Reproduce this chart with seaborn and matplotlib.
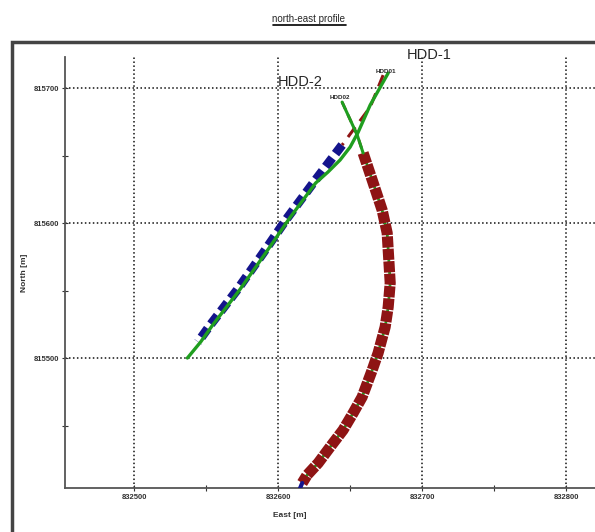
import numpy as np
import pandas as pd
import matplotlib
matplotlib.use("Agg")
import matplotlib.pyplot as plt
from matplotlib.patches import Rectangle
from matplotlib.lines import Line2D
import seaborn as sns

# HDD-1 actual path (green), entry HDD01 -> exit
hdd1_act_e = [832676.4, 832663.9, 832655.6, 832650.0, 832643.0, 832634.6, 832626.0,
              832608.0, 832591.3, 832573.2, 832554.5, 832546.2, 832537.0]
hdd1_act_n = [815711.1, 815687.4, 815667.4, 815656.3, 815646.7, 815637.8, 815629.6,
              815603.7, 815577.8, 815550.4, 815524.4, 815511.9, 815500.0]

# HDD-1 planned path: upper part (red dashed), lower part (blue)
hdd1_plan_up_e = [832672.9, 832663.9, 832652.1, 832644.4]
hdd1_plan_up_n = [815709.6, 815685.9, 815668.9, 815657.8]
hdd1_plan_lo_e = [832644.4, 832624.3, 832606.3, 832589.6, 832571.5, 832552.8, 832544.4]
hdd1_plan_lo_n = [815657.8, 815629.6, 815603.7, 815577.8, 815550.4, 815524.4, 815511.9]

# HDD-2 path, entry HDD02 -> curving down to the south
hdd2_e = [832644.4, 832654.9, 832659.0, 832666.0, 832672.2, 832675.7, 832677.8,
          832676.4, 832674.3, 832669.4, 832665.3, 832658.3, 832652.1, 832645.1,
          832636.1, 832627.8, 832620.1, 832616.7]
hdd2_n = [815689.6, 815665.2, 815651.9, 815629.6, 815609.6, 815592.6, 815555.6,
          815537.8, 815523.0, 815503.7, 815491.1, 815471.1, 815459.3, 815446.7,
          815434.1, 815422.2, 815413.3, 815407.4]
hdd2_tip_e = [832616.7, 832615.0]
hdd2_tip_n = [815407.4, 815403.0]

xticks = [832500, 832600, 832700, 832800]
yticks = [815500, 815600, 815700]

sns.set_theme(style="white")
plt.rcParams["font.family"] = ["Liberation Sans", "DejaVu Sans"]

fig = plt.figure(figsize=(5.95, 5.32), dpi=100)
ax = fig.add_axes([65 / 595, 1 - 488 / 532, 530 / 595, (488 - 57) / 532])

def path(e, n):
    return pd.DataFrame({"East": e, "North": n})

red = "#8e1414"
green = "#1f9e1f"
blue = "#14148c"

# planned HDD-2 (thick red blocks) with actual green underneath
sns.lineplot(data=path(hdd2_e[2:], hdd2_n[2:]), x="East", y="North", sort=False,
             estimator=None, ax=ax, color=green, lw=2, zorder=2)
sns.lineplot(data=path(hdd2_e[2:], hdd2_n[2:]), x="East", y="North", sort=False,
             estimator=None, ax=ax, color=red, lw=8, dashes=(1.0, 0.12), zorder=3)
sns.lineplot(data=path(hdd2_e[:3], hdd2_n[:3]), x="East", y="North", sort=False,
             estimator=None, ax=ax, color=red, lw=2, dashes=(3, 2), zorder=3)
sns.lineplot(data=path(hdd2_e[:3], hdd2_n[:3]), x="East", y="North", sort=False,
             estimator=None, ax=ax, color=green, lw=2.2, zorder=4)
sns.lineplot(data=path(hdd2_tip_e, hdd2_tip_n), x="East", y="North", sort=False,
             estimator=None, ax=ax, color=blue, lw=3, zorder=4)

# HDD-1
sns.lineplot(data=path(hdd1_plan_lo_e, hdd1_plan_lo_n), x="East", y="North", sort=False,
             estimator=None, ax=ax, color=blue, lw=6.5, dashes=(1.2, 0.6), zorder=3)
sns.lineplot(data=path(hdd1_plan_up_e, hdd1_plan_up_n), x="East", y="North", sort=False,
             estimator=None, ax=ax, color=red, lw=2.2, dashes=(4, 2.5), zorder=3)
sns.lineplot(data=path(hdd1_act_e, hdd1_act_n), x="East", y="North", sort=False,
             estimator=None, ax=ax, color=green, lw=2.4, zorder=4)

ax.set_xlim(832452, 832820)
ax.set_ylim(815403.7, 815723)
ax.set_xticks(xticks)
ax.set_yticks(yticks)
ax.set_xticks([832550, 832650, 832750], minor=True)
ax.set_yticks([815450, 815550, 815650], minor=True)
ax.set_xticklabels([str(v) for v in xticks], fontsize=5.5, fontweight="bold", color="#333333")
ax.set_yticklabels([str(v) for v in yticks], fontsize=5.5, fontweight="bold", color="#333333")
ax.tick_params(which="both", direction="inout", length=4, width=0.8, color="#333333",
               bottom=True, left=True, pad=2)
ax.grid(True, which="major", color="#111111", linestyle=(0, (1, 1.6)), linewidth=1.1)
for s in ["top", "right"]:
    ax.spines[s].set_visible(False)
for s in ["left", "bottom"]:
    ax.spines[s].set_color("#555555")
    ax.spines[s].set_linewidth(1.3)

ax.set_xlabel("East [m]", fontsize=6, fontweight="bold", color="#333333")
ax.set_ylabel("North [m]", fontsize=6, fontweight="bold", color="#333333")
ax.xaxis.set_label_coords((290 - 65) / 530, -0.055)
ax.yaxis.set_label_coords(-(65 - 28) / 530, 0.5)

ax.text(832689.6, 815724.4, "HDD-1", fontsize=10.5, va="center", ha="left", clip_on=False)
ax.text(832600, 815704.4, "HDD-2", fontsize=10.5, va="center", ha="left", clip_on=False)
ax.text(832674.7, 815711.9, "HDD01", fontsize=4.5, fontweight="bold", va="center",
        ha="center", zorder=6)
ax.text(832642.7, 815693.3, "HDD02", fontsize=4.5, fontweight="bold", va="center",
        ha="center", zorder=6)

# outer frame, cut off at right and bottom
top = 1 - 42 / 532
fig.patches.append(Rectangle((12 / 595, -0.2), 1.2, top + 0.2, transform=fig.transFigure,
                             fill=False, edgecolor="#444444", lw=2.5))

title = fig.text(309 / 595, 1 - 19 / 532, "north-east profile", ha="center", va="center",
                 fontsize=7, family=["Liberation Sans Narrow", "Liberation Sans", "DejaVu Sans"])
fig.canvas.draw()
bb = title.get_window_extent().transformed(fig.transFigure.inverted())
fig.lines.append(Line2D([bb.x0, bb.x1], [bb.y0 - 0.002, bb.y0 - 0.002], transform=fig.transFigure,
                        color="black", lw=1.2))

fig.savefig("out.png", dpi=100)
